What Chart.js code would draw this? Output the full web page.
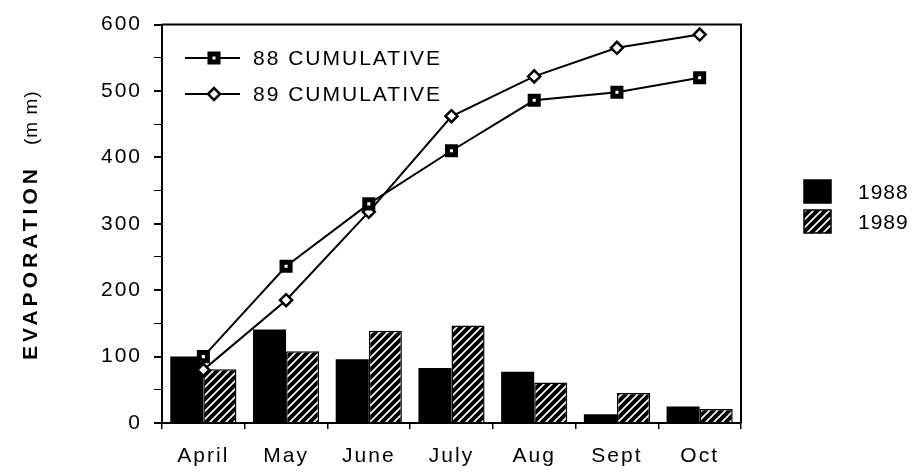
<!DOCTYPE html>
<html>
<head>
<meta charset="utf-8">
<script src="https://cdn.jsdelivr.net/npm/chart.js@4/dist/chart.umd.min.js"></script>
<style>
  html, body { margin: 0; padding: 0; background: #fff; }
</style>
</head>
<body>
<canvas id="myChart" width="917" height="475"></canvas>
<script>
const months = ["April", "May", "June", "July", "Aug", "Sept", "Oct"];
const evap1988 = [100, 141, 96, 83, 77, 13, 25];
const evap1989 = [81, 108, 139, 147, 61, 45, 21];
const cum1988 = [100, 236, 330, 410, 486, 498, 520];
const cum1989 = [80, 185, 318, 462, 522, 565, 585];

const FONT = "'Liberation Sans', Arial, Helvetica, sans-serif";

const canvas = document.getElementById("myChart");
const ctx = canvas.getContext("2d");

// diagonal hatch for the 1989 bars
function makeHatch() {
  const c = document.createElement("canvas");
  c.width = 8;
  c.height = 8;
  const g = c.getContext("2d");
  g.fillStyle = "#000";
  g.fillRect(0, 0, 8, 8);
  g.strokeStyle = "#fff";
  g.lineWidth = 1.6;
  g.beginPath();
  g.moveTo(-2, 10); g.lineTo(10, -2);
  g.moveTo(-2, 2); g.lineTo(2, -2);
  g.moveTo(6, 10); g.lineTo(10, 6);
  g.stroke();
  return ctx.createPattern(c, "repeat");
}
const hatch = makeHatch();

// the old typewriter-ish labels are spread out a bit
const spacing = {
  id: "spacing",
  beforeDraw(chart) { chart.ctx.letterSpacing = "2px"; },
};

// box on top/right, y title and the two legends
const extras = {
  id: "extras",
  afterDraw(chart) {
    const { ctx, chartArea: a } = chart;
    const ds = chart.data.datasets;
    ctx.save();
    ctx.strokeStyle = "#000";
    ctx.lineWidth = 2;
    ctx.beginPath();
    ctx.moveTo(a.left, a.top);
    ctx.lineTo(a.right, a.top);
    ctx.lineTo(a.right, a.bottom);
    ctx.stroke();

    // y axis title
    ctx.save();
    ctx.translate(37, 0);
    ctx.rotate(-Math.PI / 2);
    ctx.fillStyle = "#000";
    ctx.textBaseline = "alphabetic";
    ctx.textAlign = "left";
    ctx.letterSpacing = "4px";
    ctx.font = "bold 21px " + FONT;
    ctx.fillText("EVAPORATION", -360, 0);
    ctx.letterSpacing = "1px";
    ctx.font = "19px " + FONT;
    ctx.fillText("(m m)", -145, 0);
    ctx.restore();

    ctx.letterSpacing = "2px";
    ctx.font = "21px " + FONT;
    ctx.textBaseline = "middle";
    ctx.fillStyle = "#000";

    // line legend, top left
    [ds[2], ds[3]].forEach((d, i) => {
      const y = 58 + i * 36;
      ctx.lineWidth = 2;
      ctx.strokeStyle = "#000";
      ctx.beginPath();
      ctx.moveTo(185, y);
      ctx.lineTo(240, y);
      ctx.stroke();
      ctx.fillStyle = d.pointBackgroundColor;
      ctx.lineWidth = d.pointBorderWidth;
      Chart.helpers.drawPoint(ctx, {
        pointStyle: d.pointStyle, radius: d.pointRadius,
        borderWidth: d.pointBorderWidth, rotation: 0
      }, 214, y);
      ctx.fillStyle = "#000";
      ctx.fillText(d.label, 253, y + 1);
    });

    // bar legend, right side
    ctx.letterSpacing = "1px";
    [ds[0], ds[1]].forEach((d, i) => {
      const y = 180 + i * 30;
      ctx.fillStyle = d.backgroundColor;
      ctx.fillRect(804, y, 27, 23);
      ctx.lineWidth = 1.5;
      ctx.strokeStyle = "#000";
      ctx.strokeRect(804, y, 27, 23);
      ctx.fillStyle = "#000";
      ctx.fillText(d.label, 858, y + 13);
    });
    ctx.restore();
  }
};

const myChart = new Chart(ctx, {
  type: "bar",
  data: {
    labels: months,
    datasets: [
      {
        label: "1988",
        data: evap1988,
        backgroundColor: "#000",
        borderColor: "#000",
        borderWidth: 0,
        categoryPercentage: 0.8,
        barPercentage: 1.0,
        order: 2,
      },
      {
        label: "1989",
        data: evap1989,
        backgroundColor: hatch,
        borderColor: "#000",
        borderWidth: 1.5,
        categoryPercentage: 0.8,
        barPercentage: 1.0,
        order: 2,
      },
      {
        type: "line",
        label: "88 CUMULATIVE",
        data: cum1988,
        borderColor: "#000",
        borderWidth: 2,
        tension: 0,
        pointStyle: "rect",
        pointRadius: 5.7,
        pointBackgroundColor: "#fff",
        pointBorderColor: "#000",
        pointBorderWidth: 5,
        order: 0,
      },
      {
        type: "line",
        label: "89 CUMULATIVE",
        data: cum1989,
        borderColor: "#000",
        borderWidth: 2,
        tension: 0,
        pointStyle: "rectRot",
        pointRadius: 6,
        pointBackgroundColor: "#fff",
        pointBorderColor: "#000",
        pointBorderWidth: 2.5,
        order: 1,
      },
    ],
  },
  options: {
    responsive: false,
    animation: false,
    layout: { padding: { left: 0, top: 18, right: 176, bottom: 0 } },
    plugins: {
      legend: { display: false },
      tooltip: { enabled: false },
    },
    scales: {
      x: {
        grid: {
          display: true,
          drawOnChartArea: false,
          drawTicks: true,
          tickLength: 6,
          color: "#000",
          lineWidth: 1.5,
          offset: true,
        },
        border: { display: true, color: "#000", width: 2 },
        ticks: {
          color: "#000",
          font: { family: FONT, size: 21 },
          padding: 15,
          maxRotation: 0,
        },
        afterFit(scale) { scale.height = 52; },
      },
      y: {
        min: 0,
        max: 600,
        grid: {
          display: true,
          drawOnChartArea: false,
          drawTicks: true,
          tickLength: 8,
          color: "#000",
          lineWidth: (c) => (c.tick && c.tick.value % 100 === 0 ? 2 : 1),
        },
        border: { display: true, color: "#000", width: 2 },
        ticks: {
          stepSize: 50,
          color: "#000",
          padding: 12,
          font: { family: FONT, size: 21 },
          callback: (v) => (v % 100 === 0 ? v : ""),
        },
        afterFit(scale) { scale.width = 162; },
      },
    },
  },
  plugins: [spacing, extras],
});
</script>
</body>
</html>
